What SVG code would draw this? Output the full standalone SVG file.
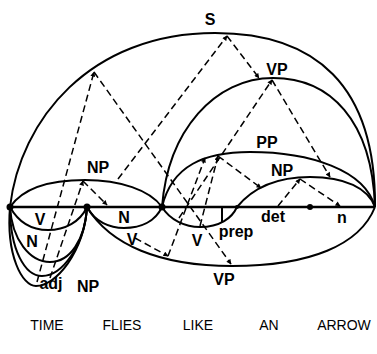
<svg xmlns="http://www.w3.org/2000/svg" width="377" height="354" viewBox="0 0 377 354">
<defs>
<marker id="ah" viewBox="0 0 10 10" refX="9" refY="5" markerWidth="6" markerHeight="5" orient="auto" markerUnits="userSpaceOnUse">
<path d="M0,0 L10,5 L0,10 z" fill="#000"/>
</marker>
</defs>
<style>
.arc{fill:none;stroke:#000;stroke-width:2}
.base{fill:none;stroke:#000;stroke-width:2.6}
.dash{fill:none;stroke:#000;stroke-width:1.5;stroke-dasharray:7 4}
.lbl{font-family:"Liberation Sans",Arial,sans-serif;font-weight:bold;font-size:16px;text-anchor:middle}
.word{font-family:"Liberation Sans",Arial,sans-serif;font-size:14px;text-anchor:middle}
</style>
<rect width="377" height="354" fill="#fff"/>

<!-- word boundaries and the line of the sentence -->
<g id="vertices">
<path class="base" d="M10,207 H375"/>
<circle cx="10" cy="207" r="3.5"/>
<circle cx="87" cy="207" r="3.5"/>
<circle cx="162" cy="207" r="3.5"/>
<circle cx="237" cy="207" r="2"/>
<circle cx="310" cy="207" r="3"/>
</g>

<!-- edges above the line -->
<g id="S"><path class="arc" d="M10,207 C20,120 90,33 215,33 C315,33 376,85 375,207"/><text class="lbl" x="210" y="25">S</text></g>
<g id="VP2"><path class="arc" d="M162,207 C168,130 215,78 273,78 C330,78 372,120 375,207"/><text class="lbl" x="277" y="75">VP</text></g>
<g id="PP"><path class="arc" d="M162,207 C172,165 205,152 250,152 C310,152 365,170 375,207"/><text class="lbl" x="267" y="148">PP</text></g>
<g id="NP35"><path class="arc" d="M237,207 C255,185 280,177 310,177 C345,177 368,188 375,207"/><text class="lbl" x="282" y="176">NP</text></g>
<g id="NP02"><path class="arc" d="M10,207 C25,185 55,180 85,180 C120,180 150,190 162,207"/><text class="lbl" x="98" y="173">NP</text></g>

<!-- edges below the line -->
<g id="V01"><path class="arc" d="M10,207 C20,225 35,230 48,230 C65,230 80,222 87,207"/><text class="lbl" x="40" y="225">V</text></g>
<g id="N01"><path class="arc" d="M10,207 C12,240 30,262 50,262 C70,262 85,240 87,207"/><text class="lbl" x="32" y="247">N</text></g>
<g id="ADJ01"><path class="arc" d="M10,207 C10,250 25,276 42,276 C62,276 85,245 87,207"/><text class="lbl" x="51" y="289">adj</text></g>
<g id="NP01"><path class="arc" d="M10,207 C6,255 22,286 36,286 C56,286 84,252 87,207"/><text class="lbl" x="88" y="292">NP</text></g>
<g id="N12"><path class="arc" d="M87,207 C95,222 110,228 124,228 C140,228 155,222 162,207"/><text class="lbl" x="124" y="223">N</text></g>
<g id="V12"><text class="lbl" x="132" y="245">V</text></g>
<g id="VP15"><path class="arc" d="M87,207 C110,245 160,266 232,266 C310,266 360,245 375,207"/><text class="lbl" x="224" y="285">VP</text></g>
<g id="V23"><path class="arc" d="M162,207 C170,220 185,227 200,227 C220,227 232,218 237,207"/><text class="lbl" x="197" y="246">V</text></g>
<g id="PREP23"><path class="arc" d="M222,207 V222"/><text class="lbl" x="236" y="237">prep</text></g>
<g id="DET34"><text class="lbl" x="273" y="222">det</text></g>
<g id="N45"><text class="lbl" x="342" y="223">n</text></g>

<!-- links from each phrase to its parts -->
<g id="links">
<path class="dash" d="M37,282 L94,72" marker-end="url(#ah)"/>
<path class="dash" d="M94,72 L231,264" marker-end="url(#ah)"/>
<path class="dash" d="M118,179 L227,36" marker-end="url(#ah)"/>
<path class="dash" d="M227,36 L259,78" marker-end="url(#ah)"/>
<path class="dash" d="M179,218 L272,80" marker-end="url(#ah)"/>
<path class="dash" d="M272,80 L330,177" marker-end="url(#ah)"/>
<path class="dash" d="M200,226 L218,156" marker-end="url(#ah)"/>
<path class="dash" d="M218,156 L261,188" marker-end="url(#ah)"/>
<path class="dash" d="M278,206 L300,179" marker-end="url(#ah)"/>
<path class="dash" d="M300,179 L340,206" marker-end="url(#ah)"/>
<path class="dash" d="M135,238 L168,256" marker-end="url(#ah)"/>
<path class="dash" d="M168,256 L205,158" marker-end="url(#ah)"/>
<path class="dash" d="M50,278 L83,181" marker-end="url(#ah)"/>
<path class="dash" d="M83,181 L107,205" marker-end="url(#ah)"/>
</g>

<g id="sentence">
<text class="word" x="47" y="330">TIME</text>
<text class="word" x="122" y="330">FLIES</text>
<text class="word" x="198" y="330">LIKE</text>
<text class="word" x="269" y="330">AN</text>
<text class="word" x="344" y="330">ARROW</text>
</g>
</svg>
